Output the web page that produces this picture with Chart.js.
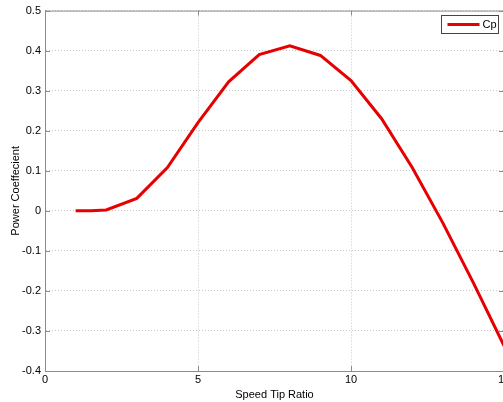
<!DOCTYPE html>
<html>
<head>
<meta charset="UTF-8">
<title>Power Coefficient</title>
<script src="https://cdn.jsdelivr.net/npm/chart.js"></script>
<style>
    html, body { margin: 0; padding: 0; overflow: hidden; background: #fff; }
    #wrap { width: 520px; height: 402px; }
</style>
</head>
<body>
<div id="wrap"><canvas id="cp-chart"></canvas></div>
<script>
    // Values
    const tipRatio = [1, 1.5, 2, 3, 4, 5, 6, 7, 8, 9, 10, 11, 12, 13, 14, 15];
    const powerCoef = [0, 0, 0.002, 0.031, 0.108, 0.22, 0.322, 0.39, 0.412, 0.388, 0.325, 0.23, 0.108, -0.03, -0.18, -0.337];
    const xTicks = [0, 5, 10, 15];
    const yTicks = [-0.4, -0.3, -0.2, -0.1, 0, 0.1, 0.2, 0.3, 0.4, 0.5];

    const font = { family: 'Liberation Sans, Arial, sans-serif', size: 11 };
    const axisGray = '#8c8c8c';

    // matlab style box, inner tick marks and legend
    const matlabBox = {
        id: 'matlabBox',
        afterDraw(chart) {
            const ctx = chart.ctx;
            const a = chart.chartArea;
            const xs = chart.scales.x, ys = chart.scales.y;
            ctx.save();
            ctx.strokeStyle = axisGray;
            ctx.lineWidth = 1;
            ctx.beginPath();
            ctx.moveTo(a.left, a.top + 0.5);
            ctx.lineTo(a.right, a.top + 0.5);
            ctx.moveTo(a.right - 0.5, a.top);
            ctx.lineTo(a.right - 0.5, a.bottom);
            xTicks.forEach(v => {
                const px = Math.round(xs.getPixelForValue(v)) + 0.5;
                ctx.moveTo(px, a.bottom); ctx.lineTo(px, a.bottom - 5);
                ctx.moveTo(px, a.top); ctx.lineTo(px, a.top + 5);
            });
            yTicks.forEach(v => {
                const py = Math.round(ys.getPixelForValue(v)) + 0.5;
                ctx.moveTo(a.left, py); ctx.lineTo(a.left + 5, py);
                ctx.moveTo(a.right, py); ctx.lineTo(a.right - 5, py);
            });
            ctx.stroke();

            // legend box
            const ds = chart.data.datasets[0];
            const bx = 441.5, by = 15.5, bw = 57, bh = 18;
            ctx.fillStyle = '#fff';
            ctx.fillRect(bx, by, bw, bh);
            ctx.strokeStyle = '#444';
            ctx.strokeRect(bx, by, bw, bh);
            ctx.strokeStyle = ds.borderColor;
            ctx.lineWidth = 3;
            ctx.beginPath();
            ctx.moveTo(bx + 6, by + 9);
            ctx.lineTo(bx + 38, by + 9);
            ctx.stroke();
            ctx.fillStyle = '#000';
            ctx.font = '11px ' + font.family;
            ctx.textBaseline = 'middle';
            ctx.fillText(ds.label, bx + 41, by + 9.5);
            ctx.restore();
        }
    };

    new Chart(document.getElementById('cp-chart'), {
        type: 'line',
        data: {
            datasets: [{
                label: 'Cp',
                data: tipRatio.map((x, i) => ({ x: x, y: powerCoef[i] })),
                borderColor: '#e60000',
                borderWidth: 3,
                pointRadius: 0,
                fill: false,
                tension: 0
            }]
        },
        options: {
            responsive: true,
            maintainAspectRatio: false,
            animation: false,
            layout: { padding: { top: 10, right: 16, left: 0, bottom: 0 } },
            plugins: { legend: { display: false }, tooltip: { enabled: false } },
            scales: {
                x: {
                    type: 'linear',
                    min: 0, max: 15,
                    afterBuildTicks: s => { s.ticks = xTicks.map(v => ({ value: v })); },
                    afterFit: s => { s.height = 31; },
                    ticks: { color: '#000', font: font, padding: 2, maxRotation: 0 },
                    grid: { color: '#c8c8c8', drawTicks: false },
                    border: { color: axisGray, dash: [1, 2] },
                    title: { display: true, text: 'Speed Tip Ratio', color: '#000', font: font, padding: { top: 0, bottom: 0 } }
                },
                y: {
                    type: 'linear',
                    min: -0.4, max: 0.5,
                    afterBuildTicks: s => { s.ticks = yTicks.map(v => ({ value: v })); },
                    afterFit: s => { s.width = 45; },
                    ticks: {
                        color: '#000', font: font, padding: 4,
                        callback: v => String(Number(v.toFixed(1)))
                    },
                    grid: { color: '#c8c8c8', drawTicks: false },
                    border: { color: axisGray, dash: [1, 2] },
                    title: { display: true, text: 'Power Coeffecient', color: '#000', font: font, padding: { top: 9, bottom: 0 } }
                }
            }
        },
        plugins: [matlabBox]
    });
</script>
</body>
</html>
